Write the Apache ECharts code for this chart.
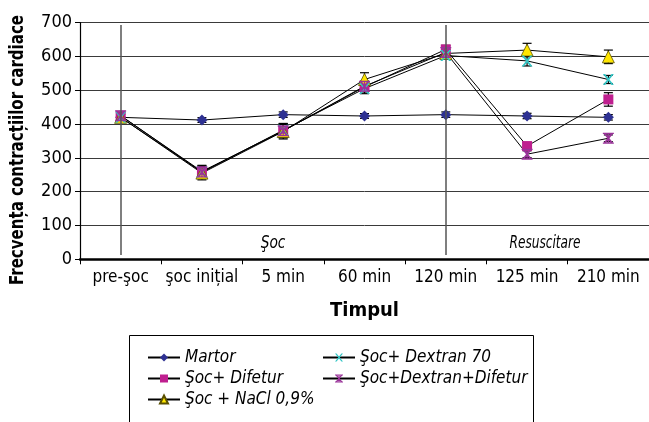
<!DOCTYPE html>
<html>
<head>
<meta charset="utf-8">
<script src="https://cdn.jsdelivr.net/npm/echarts@6/dist/echarts.min.js"></script>
<style>html,body{margin:0;padding:0;background:#fff;}#c{width:649px;height:422px;}</style>
</head>
<body>
<div id="c"></div>
<script>
const categories = ['pre-şoc', 'şoc inițial', '5 min', '60 min', '120 min', '125 min', '210 min'];
const yTicks = [0, 100, 200, 300, 400, 500, 600, 700];

const martor = [420, 412, 428, 424, 428, 424, 420];
const martorErr = [8, 7, 8, 7, 8, 8, 8];
const difetur = [425, 260, 380, 510, 621, 335, 473];
const difeturErr = [10, 18, 20, 15, 12, 10, 20];
const nacl = [420, 255, 378, 532, 609, 619, 599];
const naclErr = [10, 20, 22, 20, 12, 20, 20];
const dextran70 = [420, 258, 382, 505, 603, 587, 532];
const dextran70Err = [10, 18, 20, 15, 10, 15, 12];
const dexDif = [425, 258, 380, 512, 612, 311, 358];
const dexDifErr = [10, 15, 20, 15, 10, 10, 10];

const names = ['Martor', 'Şoc+ Difetur', 'Şoc + NaCl 0,9%', 'Şoc+ Dextran 70', 'Şoc+Dextran+Difetur'];
const yTitle = 'Frecvența contracțiilor cardiace';
const xTitle = 'Timpul';
const phaseLabels = ['Şoc', 'Resuscitare'];

const FONT = "'DejaVu Sans Condensed', 'Liberation Sans Narrow', sans-serif";

const xPath = 'path://M0,0 L2,0 L5,3.6 L8,0 L10,0 L6,5 L10,10 L8,10 L5,6.4 L2,10 L0,10 L4,5 Z';
const starPath = 'path://M0,0 L2,0 L5,3.6 L8,0 L10,0 L6,5 L10,10 L8,10 L5,6.4 L2,10 L0,10 L4,5 Z M0,0 L10,0 L10,1.2 L0,1.2 Z M0,8.8 L10,8.8 L10,10 L0,10 Z M4.4,0 L5.6,0 L5.6,10 L4.4,10 Z';

function lineSeries(name, data, color, symbol, size, border) {
  return {
    name: name, type: 'line', data: data, z: 3,
    symbol: symbol, symbolSize: size,
    lineStyle: { color: '#000', width: 1 },
    itemStyle: { color: color, borderColor: border || color, borderWidth: border ? 0.8 : 0 },
    emphasis: { disabled: true },
    animation: false
  };
}

function errSeries(id, vals, errs) {
  return {
    name: id, type: 'custom', z: 2, silent: true, animation: false,
    data: vals.map((v, i) => [i, v - errs[i], v + errs[i]]),
    renderItem: function (params, api) {
      const lo = api.coord([api.value(0), api.value(1)]);
      const hi = api.coord([api.value(0), api.value(2)]);
      const w = 4.5;
      const st = { stroke: '#000', lineWidth: 1.2 };
      return {
        type: 'group',
        children: [
          { type: 'line', shape: { x1: lo[0], y1: lo[1], x2: hi[0], y2: hi[1] }, style: st },
          { type: 'line', shape: { x1: lo[0] - w, y1: lo[1], x2: lo[0] + w, y2: lo[1] }, style: st },
          { type: 'line', shape: { x1: hi[0] - w, y1: hi[1], x2: hi[0] + w, y2: hi[1] }, style: st }
        ]
      };
    }
  };
}

const chart = echarts.init(document.getElementById('c'), null, { renderer: 'canvas' });

const s0 = lineSeries(names[0], martor, '#2e3192', 'diamond', 11);
s0.markLine = {
  silent: true, symbol: 'none', label: { show: false },
  lineStyle: { color: '#555', width: 1.5, type: 'solid' },
  data: [
    [{ coord: [categories[0], 13] }, { coord: [categories[0], 693] }],
    [{ coord: [categories[4], 13] }, { coord: [categories[4], 693] }]
  ]
};

const legendText = { fontFamily: FONT, fontStyle: 'italic', fontSize: 17, color: '#000' };

const option = {
  backgroundColor: '#fff',
  animation: false,
  textStyle: { fontFamily: FONT },
  grid: { left: 80, top: 22.7, width: 571, height: 236.6 },
  xAxis: {
    type: 'category', data: categories, boundaryGap: true,
    name: xTitle, nameLocation: 'middle', nameGap: 41,
    nameTextStyle: { fontFamily: FONT, fontWeight: 'bold', fontSize: 20, color: '#000' },
    axisLine: { show: true, lineStyle: { color: '#000', width: 2.5 } },
    axisTick: { show: true, length: 5, lineStyle: { color: '#000', width: 1 } },
    axisLabel: { fontFamily: FONT, fontSize: 17, color: '#000', margin: 10, interval: 0 },
    splitLine: { show: false }
  },
  yAxis: {
    type: 'value', min: 0, max: 700, interval: 100,
    axisLine: { show: true, lineStyle: { color: '#000', width: 1.2 } },
    axisTick: { show: true, length: 5, lineStyle: { color: '#000' } },
    axisLabel: { fontFamily: FONT, fontSize: 18, color: '#000', margin: 8,
      formatter: function (v) { return yTicks.indexOf(v) >= 0 ? String(v) : ''; } },
    splitLine: { show: true, lineStyle: { color: '#3a3a3a', width: 1 } }
  },
  legend: [
    {
      data: names.slice(0, 3), orient: 'vertical', left: 142, top: 344,
      itemWidth: 32, itemHeight: 10, itemGap: 4, selectedMode: false,
      textStyle: legendText
    },
    {
      data: names.slice(3), orient: 'vertical', left: 317, top: 344,
      itemWidth: 32, itemHeight: 10, itemGap: 4, selectedMode: false,
      textStyle: legendText
    }
  ],
  graphic: [
    { type: 'rect', shape: { x: 129.5, y: 335.5, width: 404, height: 120 },
      style: { fill: 'none', stroke: '#000', lineWidth: 1 }, silent: true },
    { type: 'text', x: 18, y: 150, rotation: Math.PI / 2, scaleX: 0.88,
      style: { text: yTitle, fontFamily: FONT, fontWeight: 'bold', fontSize: 19,
        fill: '#000', align: 'center', verticalAlign: 'middle' } },
    { type: 'text', x: 273, y: 243, scaleX: 0.85, style: { text: phaseLabels[0], fontFamily: FONT, fontStyle: 'italic', fontSize: 18,
      fill: '#000', align: 'center', verticalAlign: 'middle' } },
    { type: 'text', x: 545, y: 243, scaleX: 0.75, style: { text: phaseLabels[1], fontFamily: FONT, fontStyle: 'italic', fontSize: 18,
      fill: '#000', align: 'center', verticalAlign: 'middle' } }
  ],
  series: [
    errSeries('e0', martor, martorErr),
    errSeries('e1', difetur, difeturErr),
    errSeries('e2', nacl, naclErr),
    errSeries('e3', dextran70, dextran70Err),
    errSeries('e4', dexDif, dexDifErr),
    s0,
    lineSeries(names[1], difetur, '#bf1f8f', 'rect', 10),
    lineSeries(names[2], nacl, '#ffe600', 'triangle', 12, '#5a5000'),
    lineSeries(names[3], dextran70, '#33c6c6', xPath, 11),
    lineSeries(names[4], dexDif, '#993399', starPath, 11)
  ]
};
chart.setOption(option);
</script>
</body>
</html>
